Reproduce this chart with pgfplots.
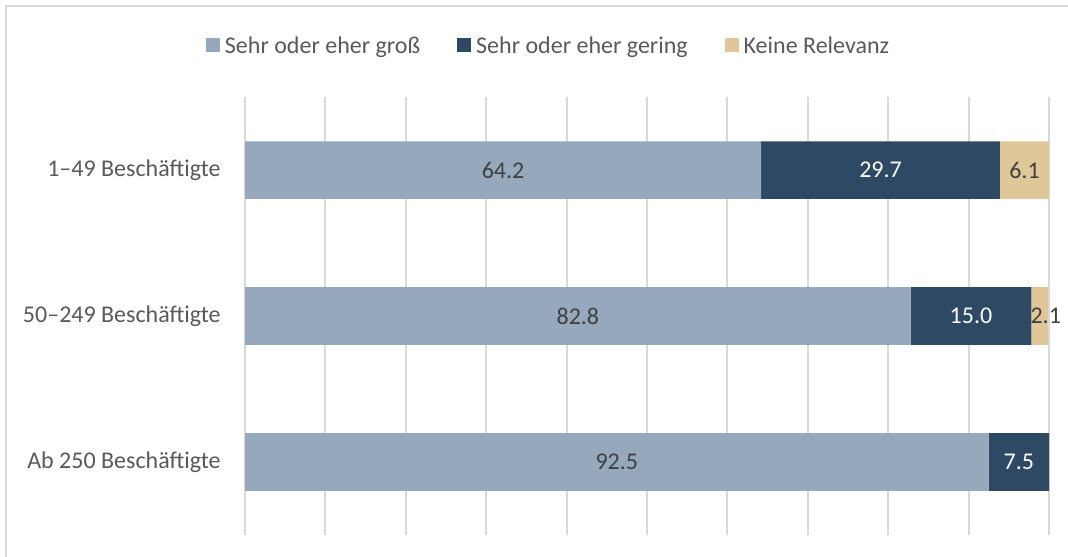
\documentclass[border=0pt]{standalone}
\usepackage{fontspec}
\setmainfont{Carlito}
\usepackage{pgfplots}
\pgfplotsset{compat=1.18}

\definecolor{barlight}{HTML}{95A8BC}
\definecolor{bardark}{HTML}{2E4963}
\definecolor{bartan}{HTML}{E0C798}
\definecolor{txtgray}{HTML}{595959}
\definecolor{lblgray}{HTML}{404040}
\definecolor{gridgray}{HTML}{D9D9D9}

\begin{document}
\fontsize{12bp}{14bp}\selectfont
\begin{tikzpicture}
\useasboundingbox (0,0) rectangle (534bp,278.5bp);
\draw[gridgray, line width=1bp] (3bp,0) -- (3bp,275.25bp) -- (534bp,275.25bp);
\begin{axis}[
    at={(122.5bp,11bp)}, anchor=south west,
    scale only axis,
    width=402bp, height=219bp,
    xbar stacked,
    bar width=28.75bp,
    xmin=0, xmax=100,
    ymin=-0.5, ymax=2.5,
    xtick={0,10,...,100},
    xticklabels={},
    ytick={0,1,2},
    yticklabels={Ab 250 Beschäftigte, 50--249 Beschäftigte, 1--49 Beschäftigte},
    yticklabel style={inner sep=0pt, xshift=-12bp, text=txtgray},
    xmajorgrids,
    grid style={gridgray, line width=1bp},
    axis line style={draw=none},
    major tick length=0pt,
    tick style={draw=none},
    /pgf/number format/assume math mode=true,
    visualization depends on={rawx \as \rawx},
    nodes near coords={\pgfmathprintnumber[fixed,precision=1,fixed zerofill]{\rawx}},
    every node near coord/.append style={anchor=center, inner sep=0pt},
    legend columns=3,
    legend style={at={(0.3763,1.1187)}, anchor=center, draw=none, fill=none,
        text=txtgray, /tikz/every even column/.append style={column sep=18.5bp},
        nodes={inner sep=0pt, text depth=0pt}},
    legend cell align=left,
    legend image code/.code={\fill[#1] (0bp,-3.5bp) rectangle (7bp,3.5bp);
        \path (9.5bp,0) ;},
]
\addplot[fill=barlight, draw=none, nodes near coords style={text=lblgray}]
    coordinates {(64.2,2) (82.8,1) (92.5,0)};
\addplot[fill=bardark, draw=none, nodes near coords style={text=white}]
    coordinates {(29.7,2) (15.0,1) (7.5,0)};
\addplot[fill=bartan, draw=none,
    nodes near coords style={text=lblgray, xshift={(\rawx<2.5)*3bp}}]
    coordinates {(6.1,2) (2.1,1)};
\legend{Sehr oder eher groß, Sehr oder eher gering, Keine Relevanz}
\end{axis}
\end{tikzpicture}
\end{document}
